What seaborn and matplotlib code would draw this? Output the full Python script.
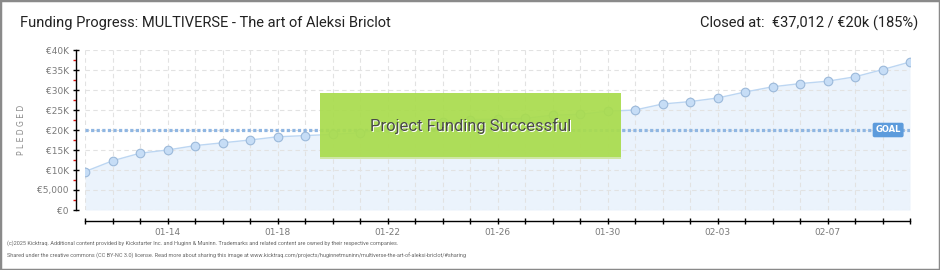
import numpy as np
import pandas as pd
import matplotlib
matplotlib.use("Agg")
import matplotlib.pyplot as plt
from matplotlib.patches import Rectangle
from matplotlib.ticker import MultipleLocator
import seaborn as sns

# ---------------- data ----------------
dates = ["01-11", "01-12", "01-13", "01-14", "01-15", "01-16", "01-17", "01-18",
         "01-19", "01-20", "01-21", "01-22", "01-23", "01-24", "01-25", "01-26",
         "01-27", "01-28", "01-29", "01-30", "01-31", "02-01", "02-02", "02-03",
         "02-04", "02-05", "02-06", "02-07", "02-08", "02-09", "02-10"]
pledged = [9600, 12300, 14200, 15000, 16100, 16800, 17500, 18300, 18600, 18900,
           19300, 20400, 21300, 22000, 22600, 22700, 22900, 23700, 23900, 24700,
           25000, 26500, 27100, 28000, 29500, 30800, 31600, 32200, 33300, 35100,
           37012]
goal = 20000
labeled_dates = ["01-14", "01-18", "01-22", "01-26", "01-30", "02-03", "02-07"]
y_ticks = [0, 5000, 10000, 15000, 20000, 25000, 30000, 35000, 40000]
y_tick_labels = ["€0", "€5,000", "€10K", "€15K", "€20K", "€25K", "€30K", "€35K", "€40K"]

title_left = "Funding Progress: MULTIVERSE - The art of Aleksi Briclot"
title_right = "Closed at:  €37,012 / €20k (185%)"
banner = "Project Funding Successful"
footer1 = ("(c)2025 Kicktraq. Additional content provided by Kickstarter Inc. and Huginn & Muninn. "
           "Trademarks and related content are owned by their respective companies.")
footer2 = ("Shared under the creative commons (CC BY-NC 3.0) license. Read more about sharing this image at "
           "www.kicktraq.com/projects/huginnetmuninn/multiverse-the-art-of-aleksi-briclot/#sharing")

df = pd.DataFrame({"day": np.arange(len(dates)), "date": dates, "pledged": pledged})

# ---------------- style ----------------
sns.set_theme(style="white")
plt.rcParams["font.family"] = ["Roboto", "DejaVu Sans"]

W, H = 940, 270
fig = plt.figure(figsize=(W / 100, H / 100), dpi=100)
fig.patch.set_facecolor("white")

L, R, T, B = 85, 910, 50, 210
ax = fig.add_axes([L / W, 1 - B / H, (R - L) / W, (B - T) / H])
ax.set_facecolor("white")

# fill under curve
ax.fill_between(df["day"], df["pledged"], 0, color="#ebf3fc", zorder=1, linewidth=0)

# grid
for d in df["day"]:
    ax.axvline(d, color="#e2e2e2", lw=0.8, ls=(0, (4, 3)), zorder=1.5)
for yv in y_ticks:
    ax.axhline(yv, color="#e2e2e2", lw=0.8, ls=(0, (4, 3)), zorder=1.5)

# goal line
ax.axhline(goal, color="#8fb6e2", lw=2.3, ls=(0, (1, 0.75)), zorder=2)

# main line
sns.lineplot(data=df, x="day", y="pledged", ax=ax, color="#bcd6f2", lw=1.0,
             marker="o", markersize=6.2, markerfacecolor="#c6ddf6",
             markeredgecolor="#9bb9da", markeredgewidth=0.8, zorder=3)

ax.set_xlim(0, len(dates) - 1)
ax.set_ylim(0, 40000)
ax.set_xlabel("")
ax.set_ylabel("")

# spines
for s in ["top", "right"]:
    ax.spines[s].set_visible(False)
ax.spines["left"].set_position(("outward", 6.5))
ax.spines["bottom"].set_position(("outward", 8))
for s in ["left", "bottom"]:
    ax.spines[s].set_color("black")
    ax.spines[s].set_linewidth(1.0)

# ticks
ax.set_xticks(df["day"])
ax.set_xticklabels([d if d in labeled_dates else "" for d in dates])
ax.tick_params(axis="x", which="major", bottom=True, direction="inout", length=4.5, width=1,
               color="black", labelcolor="#7a7a7a", pad=3)
ax.set_yticks(y_ticks)
ax.set_yticklabels(y_tick_labels)
ax.yaxis.set_minor_locator(MultipleLocator(2500))
ax.tick_params(axis="y", which="major", left=True, direction="inout", length=4.5, width=1,
               color="black", labelcolor="#7a7a7a", pad=3)
ax.tick_params(axis="y", which="minor", left=True, direction="out", length=2.2, width=1,
               color="#e01010")
for lbl in ax.get_xticklabels() + ax.get_yticklabels():
    lbl.set_family(["DejaVu Sans"])
    lbl.set_fontsize(6.5)

# y label
fig.text(22 / W, 1 - 130 / H, "P L E D G E D", rotation=90, ha="center", va="center",
         fontsize=5.5, color="#888888", family=["DejaVu Sans"])

# GOAL tag
ax.text(0.9735, goal, "GOAL", transform=ax.get_yaxis_transform(), ha="center", va="center",
        fontsize=6, color="white", fontweight="bold", family=["DejaVu Sans"], zorder=6,
        bbox=dict(boxstyle="round,pad=0.25,rounding_size=0.15", fc="#5c9bdc", ec="#5c9bdc"))

# success banner
bx0, bx1, by0, by1 = 320, 621, 93, 157
fig.patches.append(Rectangle((bx0 / W, 1 - by1 / H), (bx1 - bx0) / W, (by1 - by0) / H,
                             transform=fig.transFigure, fc="#a9dc4d", ec="none",
                             alpha=0.93, zorder=5))
fig.patches.append(Rectangle((bx0 / W, 1 - (by1 + 1.5) / H), (bx1 - bx0) / W, 1.5 / H,
                             transform=fig.transFigure, fc="#cfe6a6", ec="none", zorder=5))
fig.text((bx0 + bx1) / 2 / W + 1 / W, 1 - 127 / H, banner, ha="center", va="center",
         fontsize=12, color="white", zorder=6)
fig.text((bx0 + bx1) / 2 / W, 1 - 126 / H, banner, ha="center", va="center",
         fontsize=12, color="#4a4a4a", zorder=6)

# titles
fig.text(20 / W, 1 - 23 / H, title_left, ha="left", va="center", fontsize=10.5, color="#222222")
fig.text(918 / W, 1 - 23 / H, title_right, ha="right", va="center", fontsize=10.5, color="#222222")

# footer
fig.text(7 / W, 1 - 243 / H, footer1, ha="left", va="center", fontsize=4.0, color="#666666")
fig.text(7 / W, 1 - 256 / H, footer2, ha="left", va="center", fontsize=4.0, color="#666666")

# figure border
fig.patches.append(Rectangle((0, 0), 1, 1, transform=fig.transFigure, fill=False,
                             ec="#8a8a8a", lw=2.5, zorder=10))

fig.savefig("out.png", dpi=100)
